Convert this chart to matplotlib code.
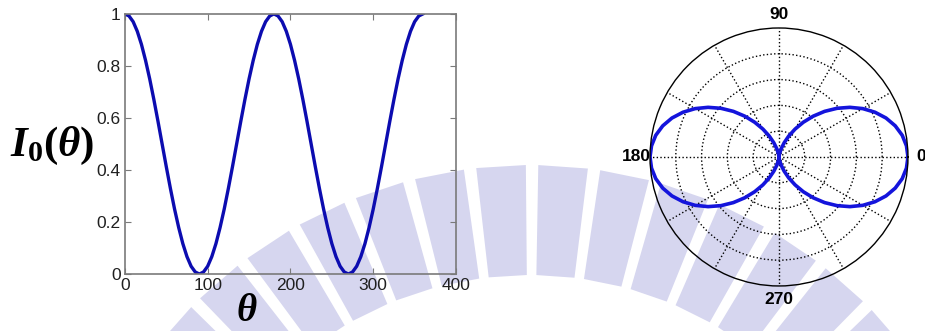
import matplotlib.pyplot as plt
import numpy as np
from matplotlib.patches import Polygon

# theta in degrees, intensity (5 degree steps)
theta_deg = list(range(0, 365, 5))
intensity = [1.000, 0.992, 0.970, 0.933, 0.883, 0.821, 0.750, 0.671, 0.587, 0.500,
             0.413, 0.329, 0.250, 0.179, 0.117, 0.067, 0.030, 0.008, 0.000,
             0.008, 0.030, 0.067, 0.117, 0.179, 0.250, 0.329, 0.413, 0.500,
             0.587, 0.671, 0.750, 0.821, 0.883, 0.933, 0.970, 0.992, 1.000,
             0.992, 0.970, 0.933, 0.883, 0.821, 0.750, 0.671, 0.587, 0.500,
             0.413, 0.329, 0.250, 0.179, 0.117, 0.067, 0.030, 0.008, 0.000,
             0.008, 0.030, 0.067, 0.117, 0.179, 0.250, 0.329, 0.413, 0.500,
             0.587, 0.671, 0.750, 0.821, 0.883, 0.933, 0.970, 0.992, 1.000]

x_ticks = [0, 100, 200, 300, 400]
y_ticks = [0, 0.2, 0.4, 0.6, 0.8, 1]
y_tick_labels = ['0', '0.2', '0.4', '0.6', '0.8', '1']
polar_labels = {0: '0', 90: '90', 180: '180', 270: '270'}

plt.rcParams['mathtext.fontset'] = 'custom'
plt.rcParams['mathtext.it'] = 'Liberation Serif:bold:italic'
plt.rcParams['mathtext.rm'] = 'Liberation Serif:bold'
plt.rcParams['mathtext.bf'] = 'Liberation Serif:bold'

fig = plt.figure(figsize=(9.25, 3.31), dpi=100)

# faint watermark in the background (pixel coords)
bg = fig.add_axes([0, 0, 1, 1], zorder=-5)
bg.set_xlim(0, 925)
bg.set_ylim(331, 0)
bg.axis('off')
cx, cy = 530, 640
for a in np.arange(26, 160, 7.5):
    a0, a1 = np.radians(a - 3.0), np.radians(a + 3.0)
    pts = [(cx + r * np.cos(t), cy - r * np.sin(t))
           for r, t in [(365, a0), (475, a0), (475, a1), (365, a1)]]
    bg.add_patch(Polygon(pts, closed=True, color='#d6d6ef', lw=0))

# left: intensity vs theta
ax = fig.add_axes([0.135, 0.172, 0.358, 0.786])
ax.patch.set_alpha(0)
ax.plot(theta_deg, intensity, color='#0c0cb0', lw=2.4)
ax.set_xlim(0, 400)
ax.set_ylim(0, 1)
ax.set_xticks(x_ticks)
ax.set_yticks(y_ticks)
ax.set_yticklabels(y_tick_labels)
for s in ax.spines.values():
    s.set_color('#7a7a7a')
    s.set_linewidth(1.2)
ax.tick_params(direction='in', top=True, right=True, length=4, color='#7a7a7a',
               labelsize=12.5, pad=3)
for lbl in ax.get_xticklabels() + ax.get_yticklabels():
    lbl.set_family('Liberation Sans')
    lbl.set_color('#202020')

fig.text(52 / 925, 1 - 146 / 331, r'$I_{\mathrm{0}}(\theta)$', fontsize=31,
         ha='center', va='center')
fig.text(247 / 925, 1 - 310 / 331, r'$\theta$', fontsize=28,
         ha='center', va='center')

# right: polar plot of the same intensity
pax = fig.add_axes([0.7027, 0.136, 0.2789, 0.7795], projection='polar')
pax.patch.set_alpha(0)
pax.plot(np.radians(theta_deg), intensity, color='#1414dc', lw=2.6)
pax.set_ylim(0, 1)
pax.set_rgrids([0.2, 0.4, 0.6, 0.8], labels=[])
pax.set_thetagrids(range(0, 360, 30),
                   labels=[polar_labels.get(d, '') for d in range(0, 360, 30)])
pax.grid(True, color='black', linestyle=':', linewidth=1.0)
pax.spines['polar'].set_color('black')
pax.spines['polar'].set_linewidth(1.0)
pax.tick_params(axis='x', pad=-1, labelsize=12.5)
for lbl in pax.get_xticklabels():
    lbl.set_family('Liberation Sans')
    lbl.set_weight('bold')

fig.savefig('out.png', dpi=100)
